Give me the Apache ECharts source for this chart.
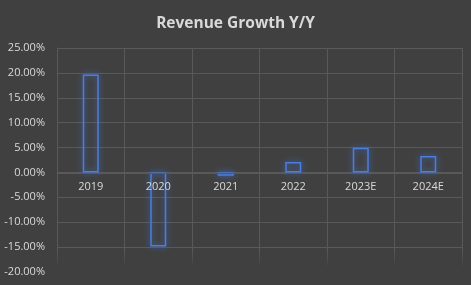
<!DOCTYPE html>
<html>
<head>
<meta charset="utf-8">
<script src="https://cdn.jsdelivr.net/npm/echarts@6/dist/echarts.min.js"></script>
<style>
  html, body { margin: 0; padding: 0; background: #404040; }
  #chart { width: 471px; height: 285px; }
</style>
</head>
<body>
<div id="chart"></div>
<script>
// data (percent)
const years = ['2019', '2020', '2021', '2022', '2023E', '2024E'];
const growth = [19.7, -14.9, -0.65, 2.1, 4.95, 3.3];

const gridColor = '#595959';
const textColor = '#d9d9d9';

let myChart = echarts.init(document.getElementById('chart'));

const option = {
    backgroundColor: '#404040',
    animation: false,
    title: {
        text: 'Revenue Growth Y/Y',
        left: 'center',
        top: 11,
        textStyle: {
            color: textColor,
            fontFamily: 'Open Sans',
            fontWeight: 'bold',
            fontSize: 15.5
        }
    },
    grid: { left: 57, right: 9, top: 48, bottom: 13, outerBoundsMode: 'none' },
    xAxis: {
        type: 'category',
        data: years,
        z: 10,
        // labels sit under the zero line like in excel
        offset: -99,
        axisLine: { onZero: false, lineStyle: { color: gridColor, width: 1 } },
        axisTick: { show: false },
        axisLabel: {
            color: textColor,
            fontFamily: 'Open Sans',
            fontSize: 11,
            margin: 8
        },
        splitLine: { show: true, lineStyle: { color: gridColor, width: 1 } }
    },
    yAxis: {
        type: 'value',
        min: -20,
        max: 25,
        interval: 5,
        axisLine: { show: true, lineStyle: { color: gridColor } },
        axisLabel: {
            color: textColor,
            fontFamily: 'Open Sans',
            fontSize: 11,
            margin: 12,
            formatter: v => v.toFixed(2) + '%'
        },
        splitLine: { lineStyle: { color: gridColor, width: 1 } }
    },
    graphic: [{
        // excel-style fade at the bottom of the plot
        type: 'rect',
        left: 55,
        top: 250,
        shape: { width: 412, height: 30 },
        silent: true,
        z: 50,
        style: {
            fill: new echarts.graphic.LinearGradient(0, 0, 0, 1, [
                { offset: 0, color: 'rgba(64,64,64,0)' },
                { offset: 0.6, color: 'rgba(64,64,64,1)' },
                { offset: 1, color: 'rgba(64,64,64,1)' }
            ])
        }
    }],
    series: [{
        type: 'bar',
        data: growth,
        barWidth: 16,
        z: 2,
        itemStyle: {
            color: 'rgba(0,0,0,0)',
            borderColor: '#4a7ee0',
            borderWidth: 1.5,
            shadowColor: 'rgba(70,130,255,0.8)',
            shadowBlur: 6
        }
    }]
};

myChart.setOption(option);
</script>
</body>
</html>
